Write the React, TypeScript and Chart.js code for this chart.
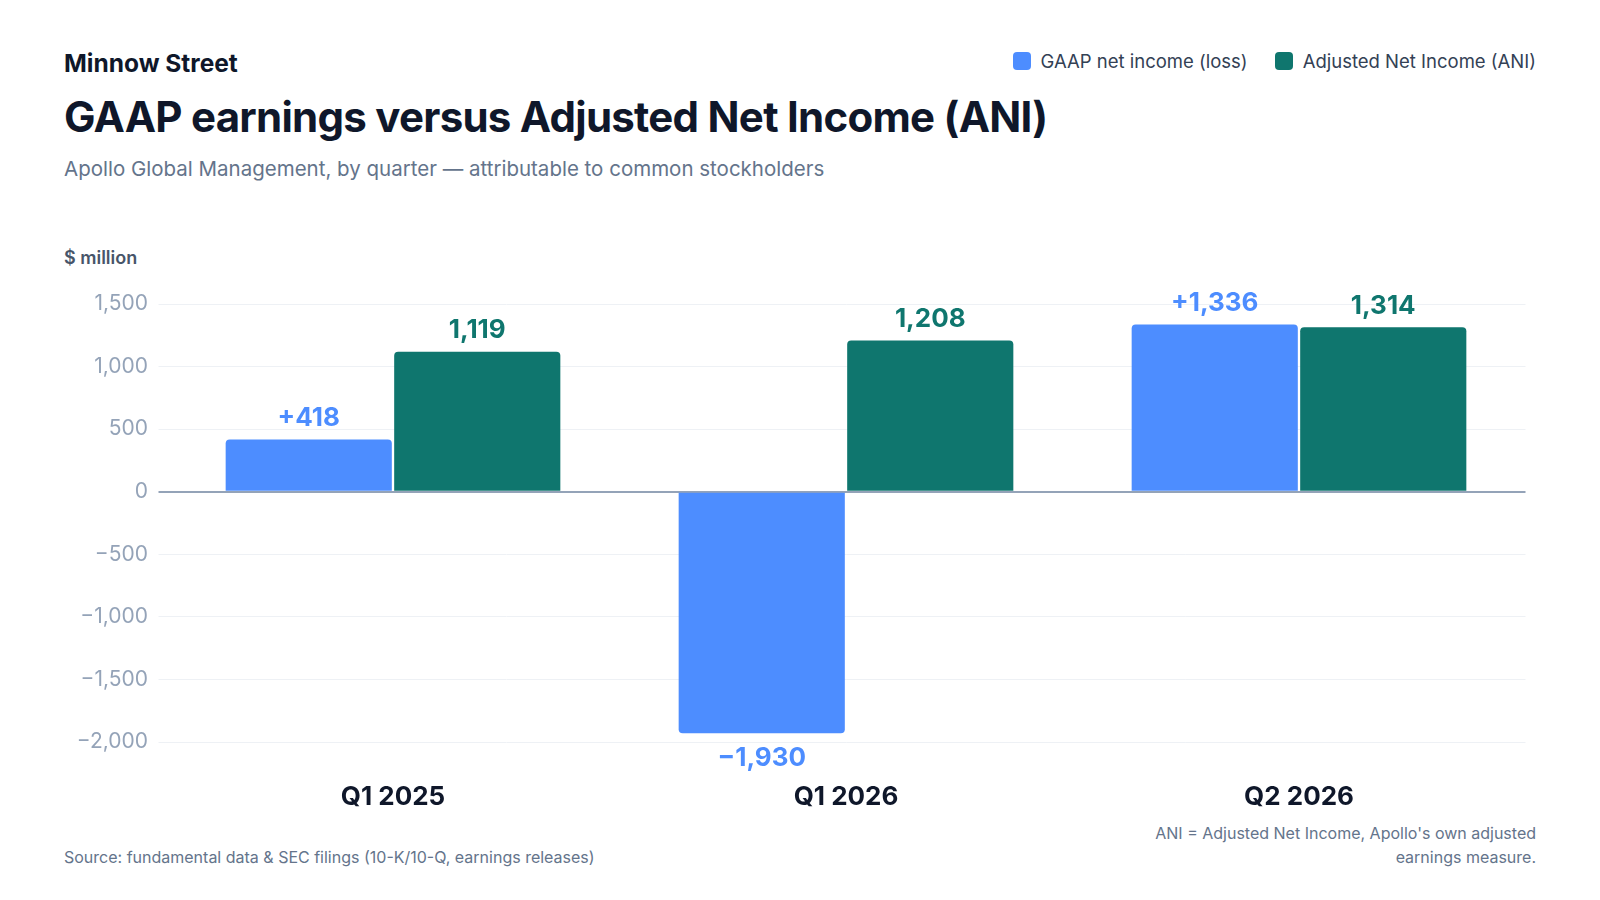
import { useEffect, useRef } from "react";
import { Chart, registerables } from "chart.js";

Chart.register(...registerables);

const quarters = ["Q1 2025", "Q1 2026", "Q2 2026"];
const gaapIncome = [418, -1930, 1336];
const adjustedIncome = [1119, 1208, 1314];
const yMin = -2000;
const yMax = 1500;
const yStep = 500;

const BLUE = "#4d8dff";
const GREEN = "#0f766e";
const FONT = "Inter, 'Noto Sans', sans-serif";

const CHART_W = 1472;
const CHART_H = 545;

// thousands with a real minus sign
const fmt = (v: number) => {
  const s = Math.abs(v).toLocaleString("en-US");
  return v < 0 ? "\u2212" + s : s;
};

const valueLabels = {
  id: "valueLabels",
  afterDatasetsDraw(chart: any) {
    const ctx = chart.ctx;
    ctx.save();
    ctx.font = `700 26px ${FONT}`;
    ctx.textAlign = "center";
    ctx.textBaseline = "middle";
    chart.data.datasets.forEach((ds: any, i: number) => {
      const meta = chart.getDatasetMeta(i);
      ctx.fillStyle = ds.labelColor;
      meta.data.forEach((bar: any, j: number) => {
        const v = ds.data[j];
        let text = fmt(v);
        if (ds.signed && v > 0) text = "+" + text;
        const y = v >= 0 ? bar.y - 21 : bar.y + 25;
        ctx.fillText(text, bar.x, y);
      });
    });
    ctx.restore();
  },
};

const EarningsChart = () => {
  const chartRef = useRef(null);
  const chartInstance = useRef(null);

  useEffect(() => {
    const myChartRef = chartRef.current.getContext("2d");
    if (chartInstance.current) {
      chartInstance.current.destroy();
    }

    chartInstance.current = new Chart(myChartRef, {
      type: "bar",
      data: {
        labels: quarters,
        datasets: [
          {
            label: "GAAP net income (loss)",
            data: gaapIncome,
            backgroundColor: BLUE,
            labelColor: BLUE,
            signed: true,
            borderRadius: 4,
            borderSkipped: "start",
            categoryPercentage: 0.744,
            barPercentage: 0.986,
          },
          {
            label: "Adjusted Net Income (ANI)",
            data: adjustedIncome,
            backgroundColor: GREEN,
            labelColor: GREEN,
            signed: false,
            borderRadius: 4,
            borderSkipped: "start",
            categoryPercentage: 0.744,
            barPercentage: 0.986,
          },
        ] as any,
      },
      options: {
        animation: false,
        responsive: false,
        maintainAspectRatio: false,
        layout: {
          padding: { top: 34, right: 10.5, bottom: 4, left: 0 },
        },
        plugins: {
          legend: { display: false },
          title: { display: false },
          tooltip: { enabled: false },
        },
        scales: {
          x: {
            afterFit: (scale: any) => {
              scale.height = 69; // keeps the plot bottom at -2,000
            },
            grid: { display: false, drawTicks: false },
            border: { display: false },
            ticks: {
              padding: 40,
              color: "#0f172a",
              font: { family: FONT, size: 26, weight: "700" },
            },
          },
          y: {
            min: yMin,
            max: yMax,
            afterFit: (scale: any) => {
              scale.width = 102.5;
            },
            border: { display: false },
            grid: {
              drawTicks: true,
              tickLength: 8,
              color: (c: any) =>
                c.tick && c.tick.value === 0 ? "#94a3b8" : "#eef1f5",
              lineWidth: (c: any) => (c.tick && c.tick.value === 0 ? 2 : 1),
            },
            ticks: {
              stepSize: yStep,
              padding: 10.5,
              color: "#94a3b8",
              font: { family: FONT, size: 21, weight: "400" },
              callback: (v: any) => fmt(Number(v)),
            },
          },
        },
      },
      plugins: [valueLabels],
    });

    return () => {
      if (chartInstance.current) {
        chartInstance.current.destroy();
      }
    };
  }, []);

  return (
    <div
      style={{
        position: "absolute",
        left: 64,
        top: 270,
        width: CHART_W,
        height: CHART_H,
      }}
    >
      <canvas
        ref={chartRef}
        width={CHART_W}
        height={CHART_H}
        style={{ display: "block", width: CHART_W, height: CHART_H }}
      ></canvas>
    </div>
  );
};

const LegendItem = ({ color, text }: { color: string; text: string }) => (
  <div style={{ display: "flex", alignItems: "center" }}>
    <span
      style={{
        width: 18,
        height: 18,
        borderRadius: 4,
        background: color,
        marginRight: 10,
        display: "inline-block",
      }}
    ></span>
    <span>{text}</span>
  </div>
);

export default function App() {
  const abs = (top: number, extra: any = {}) => ({
    position: "absolute" as const,
    left: 64,
    top,
    margin: 0,
    whiteSpace: "nowrap" as const,
    ...extra,
  });

  return (
    <div
      style={{
        position: "fixed",
        left: 0,
        top: 0,
        width: 1600,
        height: 900,
        background: "#ffffff",
        fontFamily: FONT,
        overflow: "hidden",
      }}
    >
      <div
        style={abs(47.5, {
          fontSize: 24.5,
          lineHeight: "30px",
          fontWeight: 700,
          color: "#0f172a",
        })}
      >
        Minnow Street
      </div>
      <div
        style={{
          position: "absolute",
          right: 64,
          top: 48.5,
          height: 24,
          display: "flex",
          gap: 27,
          fontSize: 18.5,
          lineHeight: "24px",
          color: "#334155",
        }}
      >
        <LegendItem color={BLUE} text="GAAP net income (loss)" />
        <LegendItem color={GREEN} text="Adjusted Net Income (ANI)" />
      </div>
      <h1
        style={abs(92, {
          fontSize: 42,
          lineHeight: "50px",
          fontWeight: 700,
          color: "#0f172a",
          letterSpacing: "-0.0175em",
        })}
      >
        GAAP earnings versus Adjusted Net Income (ANI)
      </h1>
      <div
        style={abs(154.5, {
          fontSize: 20.5,
          lineHeight: "28px",
          color: "#64748b",
        })}
      >
        Apollo Global Management, by quarter — attributable to common
        stockholders
      </div>
      <div
        style={abs(245.5, {
          fontSize: 18,
          lineHeight: "24px",
          fontWeight: 600,
          color: "#475569",
        })}
      >
        $ million
      </div>

      <EarningsChart />

      <div
        style={abs(845, {
          fontSize: 16,
          lineHeight: "24px",
          color: "#64748b",
        })}
      >
        Source: fundamental data &amp; SEC filings (10-K/10-Q, earnings
        releases)
      </div>
      <div
        style={{
          position: "absolute",
          right: 64,
          top: 821,
          width: 400,
          textAlign: "right",
          fontSize: 16,
          lineHeight: "24px",
          color: "#64748b",
        }}
      >
        ANI = Adjusted Net Income, Apollo's own adjusted earnings measure.
      </div>
    </div>
  );
}
